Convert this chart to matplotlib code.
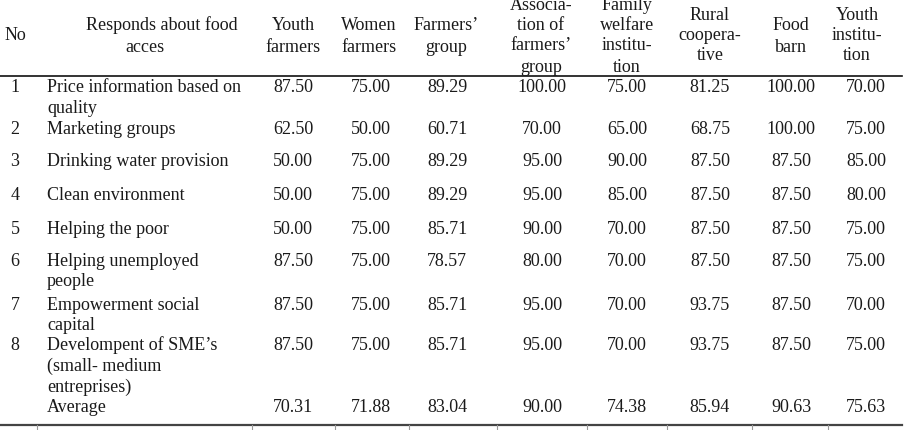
import matplotlib.pyplot as plt

plt.rcParams['font.family'] = ['Liberation Serif', 'DejaVu Serif']

# table content
row_no = ['1', '2', '3', '4', '5', '6', '7', '8', '']
responds = [
    ['Price information based on', 'quality'],
    ['Marketing groups'],
    ['Drinking water provision'],
    ['Clean environment'],
    ['Helping the poor'],
    ['Helping unemployed', 'people'],
    ['Empowerment social', 'capital'],
    ['Develompent of SME\u2019s', '(small- medium', 'entreprises)'],
    ['Average'],
]
headers = [
    ['Youth', 'farmers'],
    ['Women', 'farmers'],
    ['Farmers\u2019', 'group'],
    ['Associa-', 'tion of', 'farmers\u2019', 'group'],
    ['Family', 'welfare', 'institu-', 'tion'],
    ['Rural', 'coopera-', 'tive'],
    ['Food', 'barn'],
    ['Youth', 'institu-', 'tion'],
]
youth_farmers = [87.50, 62.50, 50.00, 50.00, 50.00, 87.50, 87.50, 87.50, 70.31]
women_farmers = [75.00, 50.00, 75.00, 75.00, 75.00, 75.00, 75.00, 75.00, 71.88]
farmers_group = [89.29, 60.71, 89.29, 89.29, 85.71, 78.57, 85.71, 85.71, 83.04]
association = [100.00, 70.00, 95.00, 95.00, 90.00, 80.00, 95.00, 95.00, 90.00]
family_welfare = [75.00, 65.00, 90.00, 85.00, 70.00, 70.00, 70.00, 70.00, 74.38]
rural_coop = [81.25, 68.75, 87.50, 87.50, 87.50, 87.50, 93.75, 93.75, 85.94]
food_barn = [100.00, 100.00, 87.50, 87.50, 87.50, 87.50, 87.50, 87.50, 90.63]
youth_institution = [70.00, 75.00, 85.00, 80.00, 75.00, 75.00, 70.00, 75.00, 75.63]
columns = [youth_farmers, women_farmers, farmers_group, association,
           family_welfare, rural_coop, food_barn, youth_institution]

# layout (pixel coordinates)
col_x = [293, 371, 447, 542, 627, 710, 791, 866]
head_x = [293, 369, 446, 541, 627, 710, 791, 857]
head_y = [[25, 46], [25, 46], [25, 46], [4, 25, 45, 66], [4, 25, 45, 66],
          [14, 34, 55], [25, 46], [14, 34, 55]]
row_y = [87, 129, 161, 195, 228, 260, 304, 345, 406]
line_gap = 20.5
fs = 13
off = 5.5  # centre -> baseline

fig = plt.figure(figsize=(9.09, 4.30), dpi=100)
ax = fig.add_axes([0, 0, 1, 1])
ax.set_xlim(0, 909)
ax.set_ylim(430, 0)
ax.axis('off')

def put(x, y, s, ha='center'):
    ax.text(x, y + off, s, ha=ha, va='baseline', fontsize=fs, color='#1a1a1a')

# header
put(15, 35, 'No')
put(162, 25, 'Responds about food')
put(145, 46, 'acces')
for hx, hy, lines in zip(head_x, head_y, headers):
    for y, s in zip(hy, lines):
        put(hx, y, s)

# body
for i, y in enumerate(row_y):
    put(15, y, row_no[i])
    for k, s in enumerate(responds[i]):
        put(47, y + k * line_gap, s, ha='left')
    for cx, vals in zip(col_x, columns):
        put(cx, y, f'{vals[i]:.2f}')

# rules
ax.plot([0, 902], [76, 76], color='#111111', lw=1.2)
ax.plot([0, 902], [425, 425], color='#444444', lw=1.6)
for sx in [37, 252, 335, 409, 497, 587, 667, 752, 828]:
    ax.plot([sx, sx], [425, 430], color='#999999', lw=0.8)

fig.savefig('out.png', dpi=100)
